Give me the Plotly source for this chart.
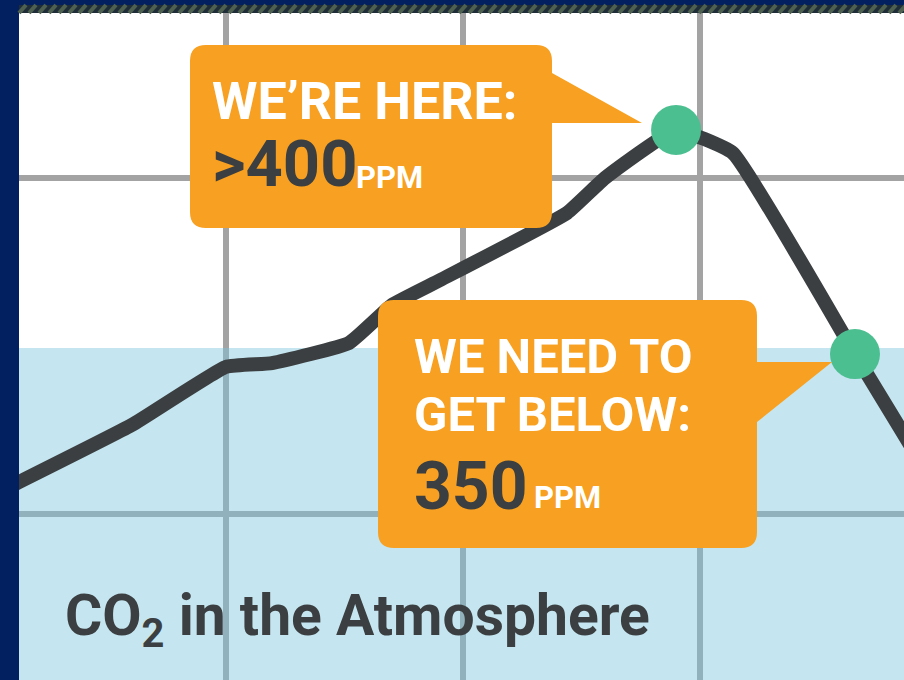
import plotly.graph_objects as go

# ---------------- data ----------------
# generic time position (gridlines at 1, 2, 3) and CO2 concentration (ppm)
time_pos = [0.004, 0.127, 0.603, 1.000, 1.194, 1.519, 1.700, 1.903, 2.439, 2.599, 2.899, 3.139, 3.654, 3.928]
co2_ppm = [305.2, 309.5, 326.5, 343.8, 344.9, 350.9, 362.2, 369.6, 389.6, 400.0, 414.3, 407.4, 347.6, 315.8]

marker_pos = [2.899, 3.654]
marker_ppm = [414.3, 347.6]

target_ppm = 349.4
x_range = [0.1266, 3.8608]
y_range = [250.6, 449.1]
title_text = "CO<sub>2</sub> in the Atmosphere"
callout_now = ["WE’RE HERE:", ">400", "PPM"]
callout_goal = ["WE NEED TO", "GET BELOW:", "350", "PPM"]

# ---------------- style ----------------
NAVY = "#02205f"
DARK = "#3b3f41"
GREEN = "#4cbf91"
ORANGE = "#f7a021"
GRID = "#a3a3a3"
FONT = "Roboto"

W, H = 904, 680
ML, MR, MT, MB = 19, 0, 13, 0
PW, PH = W - ML - MR, H - MT - MB


def px(x):
    return (x - ML) / PW


def py(y):
    return (H - MB - y) / PH


def path_from(points):
    s = ""
    for cmd, pts in points:
        s += cmd
        s += " ".join(f"{px(a):.5f},{py(b):.5f}" for a, b in pts) + " "
    return s + "Z"


def callout(x0, y0, x1, y1, r, ptr):
    (ax, ay), (tx, ty), (bx, by) = ptr
    pts = [
        ("M", [(x0 + r, y0)]),
        ("L", [(x1 - r, y0)]),
        ("Q", [(x1, y0), (x1, y0 + r)]),
        ("L", [(ax, ay)]),
        ("L", [(tx, ty)]),
        ("L", [(bx, by)]),
        ("L", [(x1, y1 - r)]),
        ("Q", [(x1, y1), (x1 - r, y1)]),
        ("L", [(x0 + r, y1)]),
        ("Q", [(x0, y1), (x0, y1 - r)]),
        ("L", [(x0, y0 + r)]),
        ("Q", [(x0, y0), (x0 + r, y0)]),
    ]
    return path_from(pts)


fig = go.Figure()

# translucent light-blue band below the target (drawn as a trace so it sits above the grid)
fig.add_trace(go.Scatter(
    x=[x_range[0] - 1, x_range[1] + 1, x_range[1] + 1, x_range[0] - 1],
    y=[y_range[0] - 50, y_range[0] - 50, target_ppm, target_ppm],
    mode="none", fill="toself", fillcolor="rgba(124,197,220,0.44)",
    hoverinfo="skip", showlegend=False,
))
fig.add_trace(go.Scatter(
    x=time_pos, y=co2_ppm, mode="lines",
    line=dict(color=DARK, width=14, shape="spline", smoothing=0.35),
    hoverinfo="skip", showlegend=False,
))
fig.add_trace(go.Scatter(
    x=marker_pos, y=marker_ppm, mode="markers",
    marker=dict(size=50, color=GREEN, line=dict(width=0)),
    hoverinfo="skip", showlegend=False,
))

shapes = []
# top striped border
shapes.append(dict(type="rect", xref="paper", yref="paper", x0=0, x1=1, y0=py(13), y1=py(5),
                   fillcolor="#1f2d39", line=dict(width=0), layer="above"))
for sx in range(ML, W + 10, 10):
    shapes.append(dict(type="line", xref="paper", yref="paper",
                       x0=px(sx), y0=py(13), x1=px(sx + 7), y1=py(5),
                       line=dict(color="#4e604f", width=4), layer="above"))
# callouts
shapes.append(dict(type="path", xref="paper", yref="paper",
                   path=callout(190, 45, 552, 228, 16, ((552, 73), (642, 123), (552, 123))),
                   fillcolor=ORANGE, line=dict(width=0), layer="above"))
shapes.append(dict(type="path", xref="paper", yref="paper",
                   path=callout(378, 300, 757, 548, 16, ((757, 362), (832, 362), (757, 422))),
                   fillcolor=ORANGE, line=dict(width=0), layer="above"))

annotations = []


def label(text, x, y, size, color, weight=700):
    annotations.append(dict(
        text=text, x=px(x), y=py(y), xref="paper", yref="paper",
        xanchor="left", yanchor="middle", showarrow=False,
        font=dict(family=FONT, size=size, color=color, weight=weight),
    ))


label(callout_now[0], 210, 101, 52, "white")
label(callout_now[1], 210, 164, 65, DARK)
label(callout_now[2], 354, 177, 31, "white")
label(callout_goal[0], 412, 357, 49, "white")
label(callout_goal[1], 412, 414, 49, "white")
label(callout_goal[2], 412, 486, 66, DARK)
label(callout_goal[3], 532, 497, 31, "white")
label(title_text, 63, 619, 57, DARK)

fig.update_layout(
    width=W, height=H,
    margin=dict(l=ML, r=MR, t=MT, b=MB, pad=0),
    paper_bgcolor=NAVY, plot_bgcolor="white",
    shapes=shapes, annotations=annotations,
    showlegend=False,
    xaxis=dict(range=x_range, tick0=0, dtick=1, showgrid=True, gridcolor=GRID, gridwidth=6,
               showticklabels=False, zeroline=False, showline=False, ticks="", fixedrange=True),
    yaxis=dict(range=y_range, tick0=0, dtick=100, showgrid=True, gridcolor=GRID, gridwidth=6,
               showticklabels=False, zeroline=False, showline=False, ticks="", fixedrange=True),
)

fig.write_html("out.html", config={"displayModeBar": False})
